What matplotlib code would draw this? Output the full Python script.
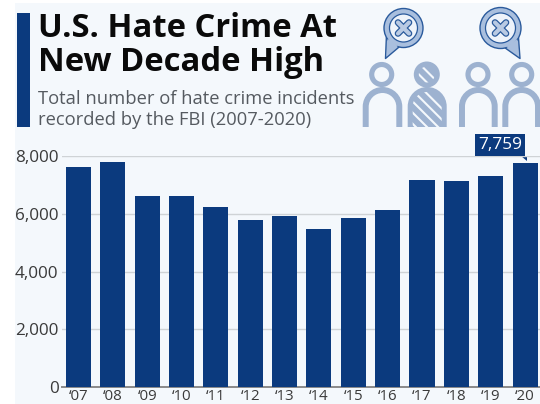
import matplotlib
matplotlib.use("Agg")
import matplotlib.pyplot as plt
from matplotlib.patches import Rectangle, Circle, PathPatch, Polygon
from matplotlib.path import Path
import numpy as np

years = ["‘07", "‘08", "‘09", "‘10", "‘11", "‘12", "‘13", "‘14", "‘15", "‘16", "‘17", "‘18", "‘19", "‘20"]
incidents = [7624, 7783, 6604, 6628, 6222, 5796, 5928, 5479, 5850, 6121, 7175, 7120, 7314, 7759]
y_ticks = [0, 2000, 4000, 6000, 8000]

NAVY = "#0b3a7e"
PANEL = "#f4f8fc"
ICON = "#9db2d0"
W, H = 540, 404

plt.rcParams["font.family"] = ["Open Sans", "DejaVu Sans"]
plt.rcParams["hatch.linewidth"] = 1.5

fig = plt.figure(figsize=(W / 100, H / 100), dpi=100, facecolor="white")

# Pixel-space layer for the panel, heading and pictograms
bg = fig.add_axes([0, 0, 1, 1], zorder=0)
bg.set_xlim(0, W)
bg.set_ylim(H, 0)
bg.axis("off")
bg.add_patch(Rectangle((15, 3), W - 15, H - 3, fc=PANEL, ec="none"))
bg.add_patch(Rectangle((17, 13), 13, 114, fc=NAVY, ec="none"))

bg.text(38, 28.5, "U.S. Hate Crime At", fontsize=23.6, fontweight="bold", color="#0a0a0a", va="center", ha="left")
bg.text(38, 62.5, "New Decade High", fontsize=23.6, fontweight="bold", color="#0a0a0a", va="center", ha="left")
bg.text(38, 99, "Total number of hate crime incidents", fontsize=13.2, color="#555a60", va="center", ha="left")
bg.text(38, 120, "recorded by the FBI (2007-2020)", fontsize=13.2, color="#555a60", va="center", ha="left")


def arch_path(x0, x1, top, bottom, closed=False):
    """Torso outline: a half-round top on two straight sides."""
    r = (x1 - x0) / 2
    k = 0.5523 * r
    xc = (x0 + x1) / 2
    yc = top + r
    verts = [(x0, bottom), (x0, yc),
             (x0, yc - k), (xc - k, top), (xc, top),
             (xc + k, top), (x1, yc - k), (x1, yc),
             (x1, bottom)]
    codes = [Path.MOVETO, Path.LINETO,
             Path.CURVE4, Path.CURVE4, Path.CURVE4,
             Path.CURVE4, Path.CURVE4, Path.CURVE4,
             Path.LINETO]
    if closed:
        verts.append((x0, bottom))
        codes.append(Path.CLOSEPOLY)
    return Path(verts, codes)


def outlined_person(xh, x0, x1):
    bg.add_patch(Circle((xh, 74.5), 10, fc="none", ec=ICON, lw=3.7))
    bg.add_patch(PathPatch(arch_path(x0 + 3, x1 - 3, 90, 127), fc="none", ec=ICON, lw=4.3,
                           capstyle="butt", clip_on=False))


def hatched_person(xh, x0, x1):
    bg.add_patch(Circle((xh, 74.5), 13, fc=ICON, ec="none"))
    bg.add_patch(Circle((xh, 74.5), 8, fc=ICON, ec=PANEL, hatch="\\\\\\", lw=0))
    bg.add_patch(PathPatch(arch_path(x0, x1, 87, 127, closed=True), fc=ICON, ec="none"))
    bg.add_patch(PathPatch(arch_path(x0 + 5, x1 - 5, 92, 127, closed=True), fc=ICON, ec=PANEL,
                           hatch="\\\\\\", lw=0))


def cross(cx, cy, arm):
    for dy in (1, -1):
        bg.plot([cx - arm, cx + arm], [cy - dy * arm, cy + dy * arm], color="#2a5a9c", lw=4.8,
                solid_capstyle="round")
    for dy in (1, -1):
        bg.plot([cx - arm, cx + arm], [cy - dy * arm, cy + dy * arm], color="#b9cae3", lw=3.0,
                solid_capstyle="round")


def bubble(cx, cy, r, tail, flip):
    face = "#a9bfde"
    edge = "#2a5a9c"
    s = -1 if flip else 1
    a0 = np.array([cx + s * r * 0.88, cy + r * 0.50])
    a1 = np.array([cx + s * r * 0.22, cy + r * 0.97])
    tip = np.array(tail, dtype=float)
    bg.add_patch(Polygon([a0, tip, a1], closed=True, fc=face, ec=edge, lw=1.0, joinstyle="round"))
    bg.add_patch(Circle((cx, cy), r, fc=face, ec=edge, lw=1.0))
    bg.add_patch(Polygon([a0 * 0.9 + a1 * 0.1, tip * 0.85 + (a0 + a1) * 0.075, a1 * 0.9 + a0 * 0.1],
                         closed=True, fc=face, ec="none"))
    bg.add_patch(Circle((cx, cy), r - 5.5, fc="#eef3fa", ec=edge, lw=0.9))
    cross(cx, cy, 5.5)


outlined_person(381.7, 362.7, 402.3)
hatched_person(426.8, 407.7, 446.7)
outlined_person(478, 459, 497.7)
outlined_person(521.7, 502.3, 541)
bubble(403.5, 28, 19.5, (385.5, 58.5), True)
bubble(500.5, 28, 20.5, (520, 58.5), False)

# Chart axes, placed so the plot spans x 62-540 and y 156-387 in pixels
left, right, top, bottom = 62, 540, 156, 387
ax = fig.add_axes([left / W, 1 - bottom / H, (right - left) / W, (bottom - top) / H], zorder=1)
ax.patch.set_alpha(0)
x = np.arange(len(incidents))
pitch = 34.35
ax.set_xlim((left - 78.5) / pitch, (right - 78.5) / pitch)
ax.set_ylim(0, 8000)
ax.bar(x, incidents, width=0.73, color=NAVY, zorder=3)

ax.set_yticks(y_ticks)
ax.set_yticklabels([f"{v:,}" for v in y_ticks], fontsize=12.3, color="#3a3a3a")
ax.set_xticks(x)
ax.set_xticklabels(years, fontsize=10.8, color="#3a3a3a")
ax.tick_params(axis="y", length=0, pad=2.5)
ax.tick_params(axis="x", length=0, pad=1.5)
ax.grid(axis="y", color="#cfd3d6", lw=1, zorder=1)
ax.set_axisbelow(True)
for side in ("top", "right", "left"):
    ax.spines[side].set_visible(False)
ax.spines["bottom"].set_color("#8a8a8a")
ax.spines["bottom"].set_linewidth(1.4)

# Callout for the latest year, anchored on its bar
last = len(incidents) - 1
ax.annotate(f"{incidents[last]:,}", xy=(x[last], incidents[last]), xycoords="data",
            xytext=(-25, 10), textcoords="offset pixels", ha="center", va="bottom",
            fontsize=12.4, fontweight="medium", color="white", zorder=6, annotation_clip=False,
            bbox=dict(boxstyle="square,pad=0.19", fc=NAVY, ec="none"))
bg.add_patch(Polygon([(521, 156), (526.5, 156), (526.5, 161)], closed=True, fc=NAVY, ec="none"))

fig.savefig("out.png", dpi=100, facecolor="white")
